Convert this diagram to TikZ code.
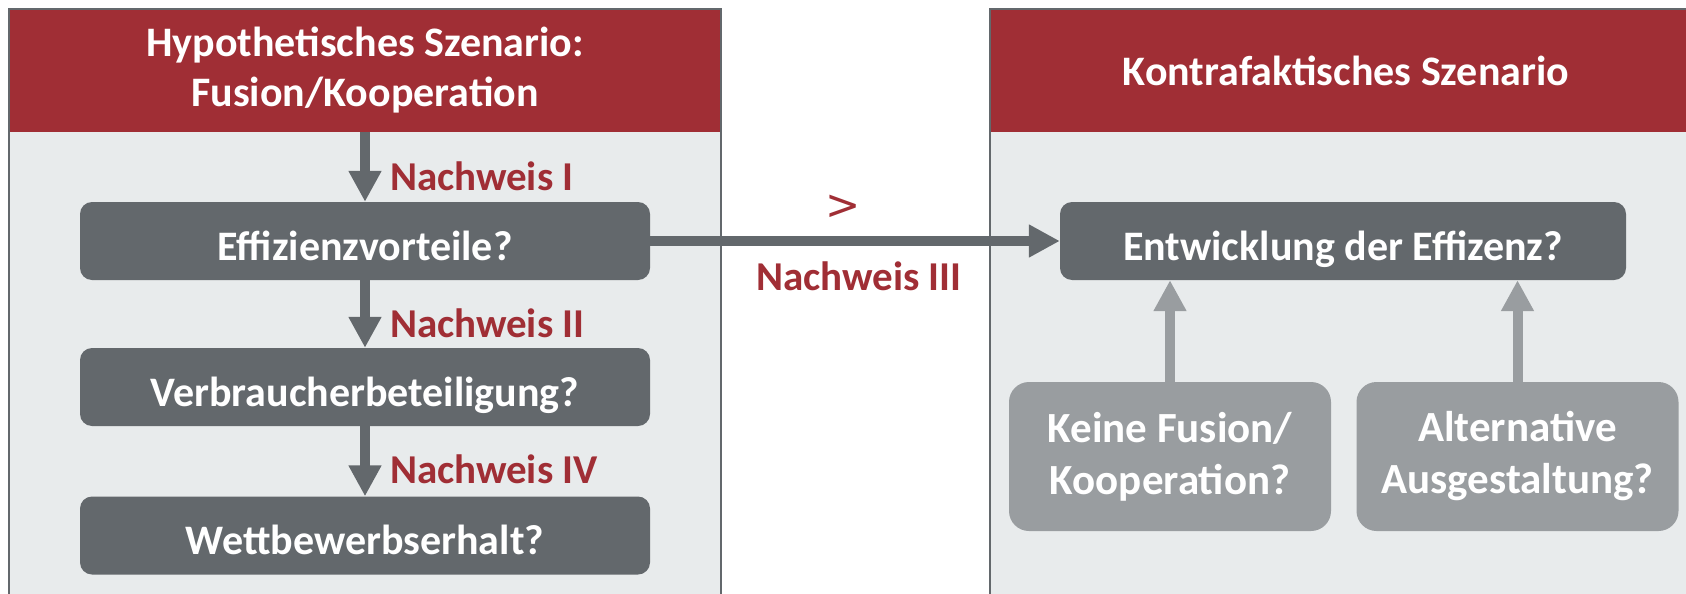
\documentclass[tikz,border=0pt]{standalone}
\usepackage{fontspec}
\setmainfont{Carlito}
\newfontfamily\signfont{DejaVu Sans}
\usetikzlibrary{arrows.meta}
\definecolor{hdred}{RGB}{160,46,53}
\definecolor{panelbg}{RGB}{232,235,236}
\definecolor{panelline}{RGB}{99,104,108}
\definecolor{darkq}{RGB}{99,104,108}
\definecolor{lightq}{RGB}{153,157,160}
\tikzset{
	bigfont/.style = {font=\bfseries\fontsize{42}{50}\selectfont},
	header/.style = {fill=hdred, text=white, bigfont, align=center, minimum width=710pt, minimum height=122pt, inner sep=0pt},
	qbox/.style = {rounded corners=12pt, fill=darkq, text=white, bigfont, text height=38pt, text depth=0pt, minimum width=570pt, minimum height=78pt, inner sep=0pt},
	altbox/.style = {rounded corners=20pt, fill=lightq, text=white, font=\bfseries\fontsize{43}{52}\selectfont, align=center, minimum width=322pt, minimum height=149pt, inner sep=0pt},
	proof/.style = {text=hdred, font=\bfseries\fontsize{41}{50}\selectfont, inner sep=0pt},
	flow/.style = {draw=darkq, line width=10pt, -{Triangle[width=31pt,length=31pt]}},
	back/.style = {draw=lightq, line width=10pt, -{Triangle[width=31pt,length=31pt]}}
}
\begin{document}
\begin{tikzpicture}[x=1pt, y=-1pt]
		\clip (0,0) rectangle (1686,594);
		\fill[white] (0,0) rectangle (1686,594);
		\fill[panelbg] (9,9) rectangle (721,620);
		\fill[panelbg] (990,9) rectangle (1702,620);
		\node[header] (hyphead) at (365,70.5) {Hypothetisches Szenario:\\Fusion/Kooperation};
		\node[header] (konhead) at (1346,70.5) {Kontrafaktisches Szenario};
		\draw[panelline, line width=2pt] (9,620) -- (9,9) -- (721,9) -- (721,620);
		\draw[panelline, line width=2pt] (990,620) -- (990,9) -- (1702,9) -- (1702,620);
		\node[qbox] (eff) at (365,241) {Effizienzvorteile?};
		\node[qbox] (verb) at (365,387) {Verbraucherbeteiligung?};
		\node[qbox] (wett) at (365,535.5) {Wettbewerbserhalt?};
		\node[qbox, minimum width=566pt] (entw) at (1343,241) {Entwicklung der Effizenz?};
		\node[altbox] (keine) at (1170,456.5) {Keine Fusion/\\Kooperation?};
		\node[altbox] (alt) at (1517.5,456.5) {Alternative\\Ausgestaltung?};
		\draw[flow] (hyphead) -- node[proof, pos=0.63, anchor=west, xshift=20pt] {Nachweis I} (eff);
		\draw[flow] (eff) -- node[proof, pos=0.63, anchor=west, xshift=20pt] {Nachweis II} (verb);
		\draw[flow] (verb) -- node[proof, pos=0.62, anchor=west, xshift=20pt] {Nachweis IV} (wett);
		\draw[flow] (eff) -- node[text=hdred, font=\signfont\fontsize{42}{46}\selectfont, xshift=-12pt, yshift=34pt] {>} node[proof, xshift=4pt, yshift=-35pt] {Nachweis III} (entw);
		\draw[back] (keine.north) -- (keine.north |- entw.south);
		\draw[back] (alt.north) -- (alt.north |- entw.south);
\end{tikzpicture}
\end{document}
